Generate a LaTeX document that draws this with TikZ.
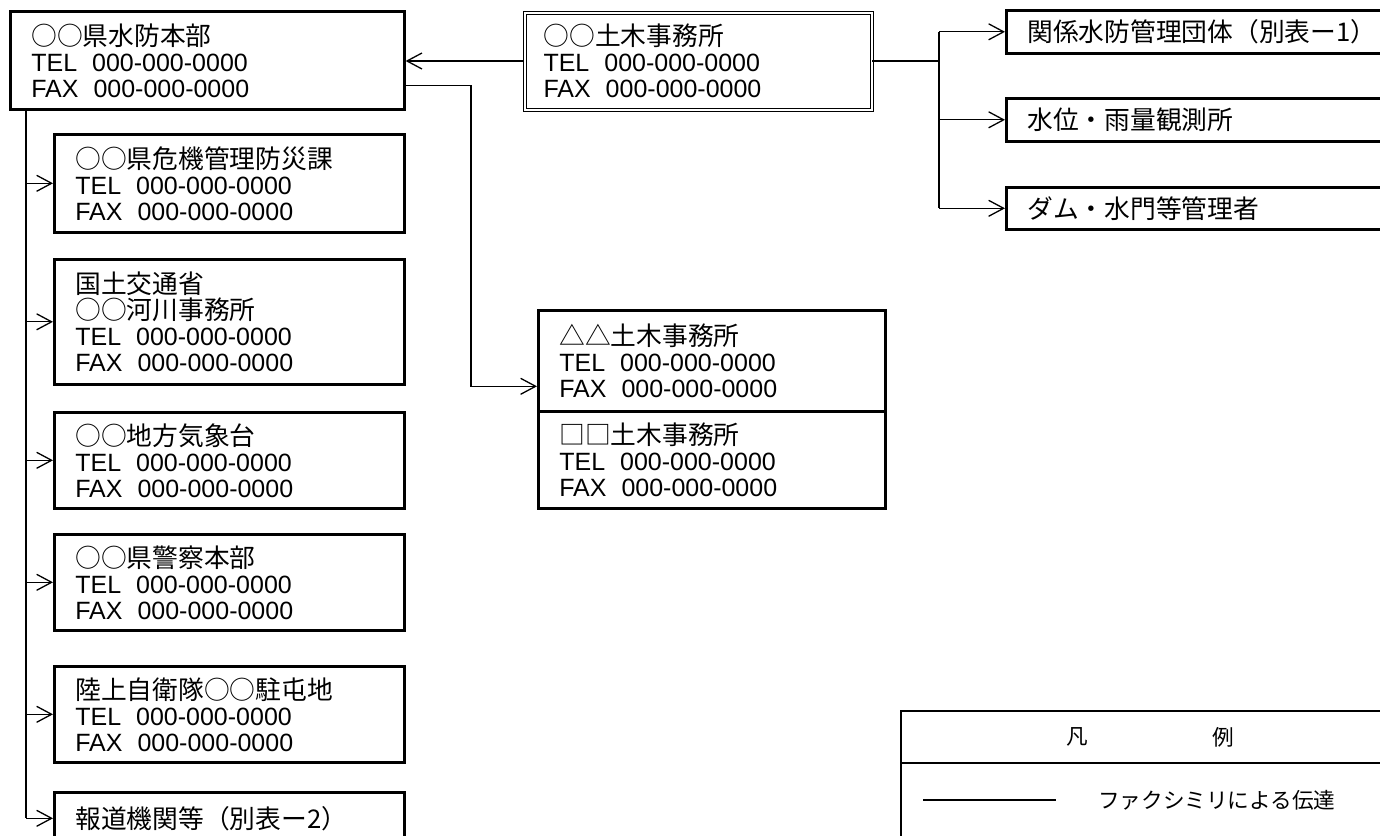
\documentclass[tikz,border=0pt]{standalone}
\usepackage{fontspec}
\setmainfont{Liberation Sans}
\newfontfamily\jp[Scale=1.03]{Noto Sans CJK JP}
\usetikzlibrary{arrows.meta}
\newcommand\telfax{TEL\hspace{0.6em}000-000-0000\\FAX\hspace{0.6em}000-000-0000}
\tikzset{
  box/.style={draw, line width=2.6pt, anchor=north west, inner xsep=21pt, inner ysep=2pt,
    align=left, font=\fontsize{25}{26}\selectfont},
  dbox/.style={box, line width=1pt, double, double distance=2pt, inner xsep=19pt},
  conn/.style={line width=1.3pt},
  arr/.style={conn, -{Straight Barb[length=15pt,width=16pt]}},
}
\begin{document}
\begin{tikzpicture}[x=1pt,y=-1pt]
\useasboundingbox (0,0) rectangle (1380,835);
\clip (0,0) rectangle (1380,835);
% top-left HQ
\node[box, text width=352pt, minimum height=98pt] (A) at (9,10)
  {{\jp ○○県水防本部}\\\telfax};
% left column
\node[box, text width=308pt, minimum height=98pt] (B1) at (53,133)
  {{\jp ○○県危機管理防災課}\\\telfax};
\node[box, text width=308pt, minimum height=125pt] (B2) at (53,258)
  {{\jp 国土交通省}\\{\jp ○○河川事務所}\\\telfax};
\node[box, text width=308pt, minimum height=96pt] (B3) at (53,411)
  {{\jp ○○地方気象台}\\\telfax};
\node[box, text width=308pt, minimum height=96pt] (B4) at (53,533)
  {{\jp ○○県警察本部}\\\telfax};
\node[box, text width=308pt, minimum height=96pt] (B5) at (53,665)
  {{\jp 陸上自衛隊○○駐屯地}\\\telfax};
\node[box, text width=308pt, minimum height=52pt] (B6) at (53,791)
  {{\jp 報道機関等（別表ー2）}};
% civil engineering office (double border)
\node[dbox, text width=309pt, minimum height=97pt] (C) at (524,12)
  {{\jp ○○土木事務所}\\\telfax};
% other offices
\node[box, text width=305pt, minimum height=101pt] (D1) at (537,309)
  {{\jp △△土木事務所}\\\telfax};
\node[box, text width=305pt, minimum height=97pt] (D2) at (537,410)
  {{\jp □□土木事務所}\\\telfax};
% right boxes
\node[box, text width=400pt, minimum height=43pt] (E1) at (1005,9)
  {{\jp 関係水防管理団体（別表ー1）}};
\node[box, text width=400pt, minimum height=43pt] (E2) at (1005,97)
  {{\jp 水位・雨量観測所}};
\node[box, text width=400pt, minimum height=42pt] (E3) at (1005,186)
  {{\jp ダム・水門等管理者}};
% connectors
\coordinate (T) at (26,0);
\draw[conn] (T |- A.south) -- (T |- B6.west);
\foreach \b in {B1,B2,B3,B4,B5,B6} \draw[arr] (T |- \b.west) -- (\b.west);
\draw[arr] (C.west) -- (A.east |- C.west);
\coordinate (K) at (471,0);
\coordinate (dIn) at ([yshift=-25.5pt]D1.west);
\draw[arr] ([yshift=-25pt]A.east) -| (K |- dIn) -- (dIn);
\coordinate (J) at (939,0);
\draw[conn] (C.east) -- (C.east -| J);
\draw[conn] (J |- E1.west) -- (J |- E3.west);
\foreach \e in {E1,E2,E3} \draw[arr] (J |- \e.west) -- (\e.west);
% legend
\draw[line width=1.5pt] (901,711) rectangle (1440,900);
\draw[line width=2pt] (901,763) -- (1440,763);
\node[font=\jp\fontsize{21}{24}\selectfont] (L1) at (1077,737) {凡};
\node[font=\jp\fontsize{21}{24}\selectfont] (L2) at (1223,737) {例};
\draw[line width=1.5pt] (923,800) -- (1056,800);
\node[anchor=west, inner sep=0pt, font=\jp\fontsize{21}{24}\selectfont] (L3) at (1098,800) {ファクシミリによる伝達};
\end{tikzpicture}
\end{document}
